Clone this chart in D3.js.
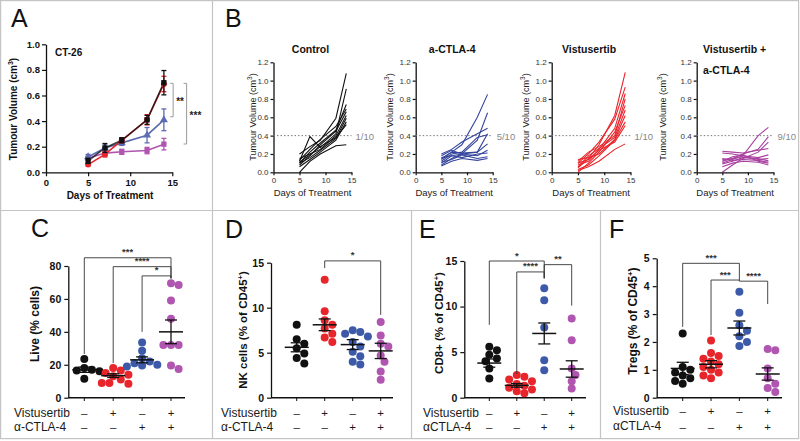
<!DOCTYPE html>
<html><head><meta charset="utf-8">
<script src="https://cdn.jsdelivr.net/npm/d3@7/dist/d3.min.js"></script>
<style>body{margin:0;background:#fff}svg{display:block;font-family:"Liberation Sans",Arial,sans-serif}</style>
</head><body>
<svg id="c" width="800" height="441"></svg>
<script>
// ---------------- DATA ----------------
const days = [5, 7, 9, 12, 14];
const aXTicks = [0, 5, 10, 15];
const aYTicks = [0, 0.2, 0.4, 0.6, 0.8, 1.0];
const bYTicks = [0, 0.2, 0.4, 0.6, 0.8, 1.0, 1.2];

// Panel A group means / SEM
const meanControl = [0.09, 0.19, 0.25, 0.41, 0.70];
const semControl = [0.02, 0.035, 0.02, 0.035, 0.095];
const meanVist = [0.06, 0.14, 0.25, 0.41, 0.69];
const semVist = [0.01, 0.02, 0.02, 0.04, 0.06];
const meanCTLA = [0.12, 0.19, 0.23, 0.29, 0.41];
const semCTLA = [0.02, 0.025, 0.02, 0.06, 0.085];
const meanCombo = [0.11, 0.15, 0.16, 0.17, 0.22];
const semCombo = [0.015, 0.02, 0.02, 0.025, 0.045];

// Panel B individual tumour curves (days 5,7,9,12,14)
const ctrlCurves = [
  [0.20, 0.28, 0.35, 0.59, 1.08], [0.12, 0.39, 0.27, 0.42, 0.91], [0.10, 0.22, 0.32, 0.46, 0.74],
  [0.13, 0.25, 0.36, 0.50, 0.69], [0.08, 0.18, 0.30, 0.45, 0.66], [0.15, 0.20, 0.25, 0.40, 0.62],
  [0.10, 0.16, 0.24, 0.37, 0.59], [0.06, 0.14, 0.22, 0.35, 0.55], [0.00, 0.12, 0.20, 0.29, 0.30],
  [0.11, 0.19, 0.28, 0.38, 0.52]];
const ctlaCurves = [
  [0.15, 0.22, 0.30, 0.60, 0.85], [0.18, 0.24, 0.20, 0.35, 0.65], [0.20, 0.25, 0.33, 0.42, 0.48],
  [0.12, 0.20, 0.22, 0.38, 0.41], [0.10, 0.18, 0.20, 0.22, 0.42], [0.14, 0.22, 0.21, 0.22, 0.31],
  [0.08, 0.15, 0.20, 0.18, 0.24], [0.16, 0.18, 0.16, 0.20, 0.21], [0.11, 0.14, 0.19, 0.15, 0.17],
  [0.07, 0.12, 0.15, 0.13, 0.15]];
const vistCurves = [
  [0.05, 0.15, 0.30, 0.62, 1.09], [0.10, 0.20, 0.33, 0.58, 0.93], [0.08, 0.12, 0.25, 0.48, 0.86],
  [0.12, 0.22, 0.28, 0.40, 0.80], [0.00, 0.10, 0.22, 0.44, 0.73], [0.06, 0.18, 0.26, 0.38, 0.68],
  [0.14, 0.16, 0.20, 0.36, 0.62], [0.03, 0.08, 0.18, 0.35, 0.55], [0.10, 0.14, 0.24, 0.33, 0.51],
  [0.02, 0.06, 0.12, 0.25, 0.31]];
const comboCurves = [
  [0.10, 0.14, 0.18, 0.40, 0.49], [0.12, 0.15, 0.20, 0.25, 0.39], [0.00, 0.08, 0.15, 0.22, 0.33],
  [0.23, 0.22, 0.21, 0.24, 0.26], [0.21, 0.20, 0.18, 0.16, 0.19], [0.14, 0.15, 0.17, 0.14, 0.15],
  [0.09, 0.12, 0.16, 0.15, 0.125], [0.12, 0.17, 0.19, 0.12, 0.10], [0.06, 0.10, 0.12, 0.11, 0.08],
  [0.15, 0.13, 0.14, 0.13, 0.11]];
const bTitles = [["Control"], ["a-CTLA-4"], ["Vistusertib"], ["Vistusertib +", "a-CTLA-4"]];
const bFractions = ["1/10", "5/10", "1/10", "9/10"];

// Bottom row (C–F): groups = [-/-, Vist, CTLA, Vist+CTLA]
const vistSigns = ["-", "+", "-", "+"];
const ctlaSigns = ["-", "-", "+", "+"];
const livePts = [[23.5, 18, 17, 16.5, 16, 11.5], [18, 16.5, 15, 14, 13, 11, 9, 9, 8.5],
  [33.5, 28.5, 24, 22, 21, 20, 19.5, 19], [69.5, 68.5, 59, 48, 32, 32, 32, 19.5, 17.5]];
const liveMean = [17, 13.4, 23, 40]; const liveSem = [1.6, 1.1, 1.8, 7.2];
const liveTicks = [0, 20, 40, 60, 80];
const nkPts = [[8.1, 6.5, 6.0, 5.5, 4.9, 4.4, 3.8], [13.1, 9.6, 8.6, 8.1, 7.7, 7.1, 6.7, 6.2],
  [7.5, 7.3, 7.1, 6.8, 6.2, 5.7, 5.1, 4.6, 4.0, 3.7], [8.4, 6.9, 6.0, 5.7, 4.7, 4.0, 2.9, 2.0]];
const nkMean = [5.6, 8.1, 5.9, 5.2]; const nkSem = [0.5, 0.65, 0.55, 0.85];
const nkTicks = [0, 5, 10, 15];
const cd8Pts = [[5.6, 5.2, 4.7, 4.3, 4.0, 3.2, 2.1], [2.5, 2.3, 2.0, 1.8, 1.5, 1.3, 1.1, 0.9, 0.7, 0.5],
  [12, 10.7, 7.7, 4.1, 3.0], [8.7, 6.3, 3.2, 2.5, 1.8, 1.0]];
const cd8Mean = [3.8, 1.35, 7.05, 3.15]; const cd8Sem = [0.45, 0.2, 1.15, 0.9];
const cd8Ticks = [0, 5, 10, 15];
const tregPts = [[2.3, 1.1, 1.0, 0.9, 0.8, 0.7, 0.6, 0.5], [2.05, 1.6, 1.5, 1.4, 1.3, 1.2, 1.1, 1.0, 0.9, 0.8, 0.7],
  [3.8, 3.05, 2.6, 2.4, 2.2, 2.0, 1.85], [1.75, 1.7, 1.05, 0.7, 0.5, 0.35, 0.2]];
const tregMean = [1.05, 1.2, 2.5, 0.85]; const tregSem = [0.22, 0.13, 0.25, 0.22];
const tregTicks = [0, 1, 2, 3, 4, 5];

// significance brackets: [from group, to group, top value, left drop, right drop, label]
const liveSig = [[0, 3, 85, 26.5, 72.5, "***"], [1, 3, 79.6, 21, 72.5, "****"], [2, 3, 74, 40, 72.5, "*"]];
const nkSig = [[1, 3, 15.2, 14.4, 9.2, "*"]];
const cd8Sig = [[0, 2, 15.0, 8.0, 13.1, "*"], [1, 2, 13.8, 2.6, 13.1, "****"], [2, 3, 14.6, 13.1, 10.1, "**"]];
const tregSig = [[0, 2, 4.82, 2.54, 4.2, "***"], [1, 2, 4.22, 2.25, 4.2, "***"], [2, 3, 4.18, 4.2, 3.36, "****"]];
// Panel A brackets: [upper value, lower value, day position, label]
const aSig = [[0.695, 0.434, 15.1, "**"], [0.695, 0.221, 16.7, "***"]];

// ---------------- DRAWING ----------------
const svg = d3.select("#c");
const BLACK = "#111", RED = "#e8252b", BLUE = "#3c5aa8", PURPLE = "#b055b0";
const NAVY = "#34449c", MAG = "#a8409f";

// frames
const frame = svg.append("g").attr("fill", "none").attr("stroke", "#c4c4c4").attr("stroke-width", 1.2);
frame.append("rect").attr("x", 0.6).attr("y", 0.6).attr("width", 798).attr("height", 438);
frame.append("line").attr("x1", 212.5).attr("x2", 212.5).attr("y1", 0).attr("y2", 439);
frame.append("line").attr("x1", 0).attr("x2", 799).attr("y1", 210.5).attr("y2", 210.5);
frame.append("line").attr("x1", 411.5).attr("x2", 411.5).attr("y1", 210.5).attr("y2", 439);
frame.append("line").attr("x1", 600.5).attr("x2", 600.5).attr("y1", 210.5).attr("y2", 439);

function letter(t, x, y) {
  svg.append("text").attr("x", x).attr("y", y).attr("font-size", 25).attr("fill", "#111").text(t);
}
letter("A", 11, 27); letter("B", 225, 27); letter("C", 31, 237); letter("D", 225, 238); letter("E", 419, 238); letter("F", 609, 238);

function styleAxis(g, fs, bold, col) {
  g.select(".domain").attr("stroke", "#111").attr("stroke-width", 1.3);
  g.selectAll(".tick line").attr("stroke", "#111").attr("stroke-width", 1.2);
  g.selectAll(".tick text").attr("font-size", fs).attr("font-weight", bold ? "bold" : "normal")
    .attr("fill", col || "#111").attr("font-family", '"Liberation Sans",Arial,sans-serif');
}

// ---- Panel A ----
{
  const g = svg.append("g");
  const x = d3.scaleLinear().domain([0, 15]).range([46, 172.3]);
  const y = d3.scaleLinear().domain([0, 1]).range([172.3, 44.3]);
  const gx = g.append("g").attr("transform", "translate(0,172.3)")
    .call(d3.axisBottom(x).tickValues(aXTicks).tickSize(4).tickSizeOuter(0).tickPadding(3));
  styleAxis(gx, 9.5, true);
  const gy = g.append("g").attr("transform", "translate(46,0)")
    .call(d3.axisLeft(y).tickValues(aYTicks).tickFormat(d3.format(".1f")).tickSize(4).tickSizeOuter(0).tickPadding(2));
  styleAxis(gy, 9.5, true);
  g.append("text").attr("x", 110).attr("y", 199).attr("text-anchor", "middle").attr("font-size", 10)
    .attr("font-weight", "bold").attr("fill", "#111").text("Days of Treatment");
  const yt = g.append("text").attr("transform", "translate(17,109) rotate(-90)").attr("text-anchor", "middle")
    .attr("font-size", 10).attr("font-weight", "bold").attr("fill", "#111");
  yt.append("tspan").text("Tumour Volume (cm");
  yt.append("tspan").attr("font-size", 7).attr("dy", -4).text("3");
  yt.append("tspan").attr("dy", 4).text(")");
  g.append("text").attr("x", 55).attr("y", 56).attr("font-size", 10).attr("font-weight", "bold").attr("fill", "#111").text("CT-26");

  const series = [
    { m: meanCombo, s: semCombo, c: PURPLE, sym: d3.symbolSquare, op: 1 },
    { m: meanCTLA, s: semCTLA, c: "#5b6cb0", sym: d3.symbolTriangle, op: 1 },
    { m: meanVist, s: semVist, c: RED, sym: d3.symbolCircle, op: 1 },
    { m: meanControl, s: semControl, c: BLACK, sym: d3.symbolSquare, op: 0.8 }
  ];
  const line = d3.line().x((d, i) => x(days[i])).y(d => y(d));
  series.forEach(se => {
    g.append("path").attr("d", line(se.m)).attr("fill", "none").attr("stroke", se.c).attr("stroke-width", 1.6)
      .attr("opacity", se.op);
  });
  series.forEach(se => {
    se.m.forEach((v, i) => {
      const cx = x(days[i]);
      const eb = se.c;
      g.append("line").attr("x1", cx).attr("x2", cx).attr("y1", y(v - se.s[i])).attr("y2", y(v + se.s[i])).attr("stroke", eb).attr("stroke-width", 1.3);
      [v - se.s[i], v + se.s[i]].forEach(e => g.append("line").attr("x1", cx - 2.5).attr("x2", cx + 2.5)
        .attr("y1", y(e)).attr("y2", y(e)).attr("stroke", eb).attr("stroke-width", 1.3));
      g.append("path").attr("transform", `translate(${cx},${y(v)})`).attr("d", d3.symbol().type(se.sym).size(28)())
        .attr("fill", se.c);
    });
  });
  aSig.forEach(b => {
    const bx = x(b[2]);
    g.append("path").attr("d", `M${bx - 3},${y(b[0])}H${bx}V${y(b[1])}H${bx - 3}`).attr("fill", "none")
      .attr("stroke", "#999").attr("stroke-width", 1);
    g.append("text").attr("x", bx + 3).attr("y", (y(b[0]) + y(b[1])) / 2 + 5).attr("font-size", 10)
      .attr("font-weight", "bold").attr("fill", "#222").text(b[3]);
  });
}

// ---- Panel B ----
{
  const plots = [
    { x0: 273.5, x1: 351.5, curves: ctrlCurves, c: "#111", yt: 256 },
    { x0: 415.7, x1: 492.7, curves: ctlaCurves, c: NAVY, yt: 393 },
    { x0: 551.7, x1: 630.5, curves: vistCurves, c: RED, yt: 529 },
    { x0: 696.7, x1: 773.5, curves: comboCurves, c: MAG, yt: 666 }
  ];
  plots.forEach((p, k) => {
    const g = svg.append("g");
    const x = d3.scaleLinear().domain([0, 15]).range([p.x0, p.x1]);
    const y = d3.scaleLinear().domain([0, 1.2]).range([172.3, 62.3]);
    const gx = g.append("g").attr("transform", "translate(0,172.3)")
      .call(d3.axisBottom(x).tickValues(aXTicks).tickSize(3).tickSizeOuter(0).tickPadding(2));
    styleAxis(gx, 8, false, "#333");
    const gy = g.append("g").attr("transform", `translate(${p.x0},0)`)
      .call(d3.axisLeft(y).tickValues(bYTicks).tickFormat(d3.format(".1f")).tickSize(3).tickSizeOuter(0).tickPadding(2));
    styleAxis(gy, 8, false, "#333");
    // threshold
    g.append("line").attr("x1", p.x0).attr("x2", p.x1 + (k === 1 ? -2 : 0)).attr("y1", y(0.4)).attr("y2", y(0.4))
      .attr("stroke", "#777").attr("stroke-width", 1).attr("stroke-dasharray", "1.5,2");
    g.append("text").attr("x", p.x1 + 4).attr("y", y(0.4) + 4).attr("font-size", 9.5).attr("fill", "#888").text(bFractions[k]);
    const line = d3.line().x((d, i) => x(days[i])).y(d => y(d));
    p.curves.forEach(cv => g.append("path").attr("d", line(cv)).attr("fill", "none").attr("stroke", p.c).attr("stroke-width", 1.1));
    // titles
    const t = bTitles[k];
    if (t.length === 1) {
      g.append("text").attr("x", (p.x0 + p.x1) / 2 - 2).attr("y", 53).attr("text-anchor", "middle")
        .attr("font-size", 10.5).attr("font-weight", "bold").attr("fill", "#111").text(t[0]);
    } else {
      t.forEach((s, j) => g.append("text").attr("x", 703).attr("y", 53 + j * 21).attr("font-size", 10.5)
        .attr("font-weight", "bold").attr("fill", "#111").text(s));
    }
    g.append("text").attr("x", (p.x0 + p.x1) / 2).attr("y", 196).attr("text-anchor", "middle").attr("font-size", 9.5)
      .attr("fill", "#222").text("Days of Treatment");
    const yt = g.append("text").attr("transform", `translate(${p.yt},117) rotate(-90)`).attr("text-anchor", "middle")
      .attr("font-size", 9).attr("fill", "#222");
    yt.append("tspan").text("Tumour Volume (cm");
    yt.append("tspan").attr("font-size", 6.5).attr("dy", -4).text("3");
    yt.append("tspan").attr("dy", 4).text(")");
  });
}

// ---- Bottom scatter panels ----
function swarm(vals, y, cx, r) {
  const arr = vals.map(v => ({ v, y: y(v) })).sort((a, b) => a.y - b.y);
  const placed = [];
  arr.forEach(p => {
    for (let k = 0; k < 30; k++) {
      const off = k === 0 ? 0 : (k % 2 ? 1 : -1) * Math.ceil(k / 2) * r * 0.95;
      const xx = cx + off;
      if (placed.every(q => Math.hypot(q.x - xx, q.y - p.y) >= r * 1.75)) { p.x = xx; break; }
    }
    if (p.x === undefined) p.x = cx;
    placed.push(p);
  });
  return placed;
}

function scatterPanel(o) {
  const g = svg.append("g");
  const colors = [BLACK, RED, BLUE, PURPLE];
  const y = d3.scaleLinear().domain([0, o.max]).range([397.7, o.top]);
  const x = d3.scalePoint().domain([0, 1, 2, 3]).range([o.c0, o.c3]);
  g.append("line").attr("x1", o.ax).attr("x2", o.xEnd).attr("y1", 397.7).attr("y2", 397.7).attr("stroke", "#111").attr("stroke-width", 1.4);
  [0, 1, 2, 3].forEach(i => g.append("line").attr("x1", x(i)).attr("x2", x(i)).attr("y1", 397.7).attr("y2", 401).attr("stroke", "#111"));
  const gy = g.append("g").attr("transform", `translate(${o.ax},0)`)
    .call(d3.axisLeft(y).tickValues(o.ticks).tickFormat(d3.format("d")).tickSize(4).tickSizeOuter(0).tickPadding(3));
  styleAxis(gy, 10.5, true);
  // points
  o.pts.forEach((vals, i) => {
    swarm(vals, y, x(i), 4).forEach(p => g.append("circle").attr("cx", p.x).attr("cy", p.y).attr("r", 4).attr("fill", colors[i]));
  });
  // mean & sem
  o.mean.forEach((m, i) => {
    const cx = x(i), s = o.sem[i];
    g.append("line").attr("x1", cx - 12).attr("x2", cx + 12).attr("y1", y(m)).attr("y2", y(m)).attr("stroke", "#111").attr("stroke-width", 1.5);
    g.append("line").attr("x1", cx).attr("x2", cx).attr("y1", y(m - s)).attr("y2", y(m + s)).attr("stroke", "#111").attr("stroke-width", 1.3);
    [m - s, m + s].forEach(e => g.append("line").attr("x1", cx - 6).attr("x2", cx + 6).attr("y1", y(e)).attr("y2", y(e))
      .attr("stroke", "#111").attr("stroke-width", 1.3));
  });
  // brackets
  o.sig.forEach(b => {
    const xa = x(b[0]), xb = x(b[1]), yt = y(b[2]);
    g.append("path").attr("d", `M${xa},${y(b[3])}V${yt}H${xb}V${y(b[4])}`).attr("fill", "none").attr("stroke", "#333").attr("stroke-width", 0.9);
    g.append("text").attr("x", (xa + xb) / 2).attr("y", yt - 2.5).attr("text-anchor", "middle").attr("font-size", 9.5)
      .attr("font-weight", "bold").attr("fill", "#333").text(b[5]);
  });
  // y title
  const t = g.append("text").attr("transform", `translate(${o.tx},${o.ty}) rotate(-90)`).attr("text-anchor", "middle")
    .attr("font-size", o.tfs).attr("font-weight", "bold").attr("fill", "#111");
  o.title.forEach(part => {
    const sp = t.append("tspan").text(part[0]);
    if (part[1]) sp.attr("font-size", o.tfs * 0.65).attr("dy", -4.5);
    if (part[2]) sp.attr("dy", 4.5);
  });
  // row labels
  g.append("text").attr("x", o.lx).attr("y", o.r1).attr("font-size", 12).attr("fill", "#1a1a1a").text("Vistusertib");
  g.append("text").attr("x", o.lx).attr("y", o.r2).attr("font-size", 12).attr("fill", "#1a1a1a").text(o.ctlaLabel);
  vistSigns.forEach((s, i) => g.append("text").attr("x", x(i)).attr("y", o.r1).attr("text-anchor", "middle").attr("font-size", 11.5).attr("fill", "#1a1a1a").text(s === "-" ? "–" : "+"));
  ctlaSigns.forEach((s, i) => g.append("text").attr("x", x(i)).attr("y", o.r2s).attr("text-anchor", "middle").attr("font-size", 11.5).attr("fill", "#1a1a1a").text(s === "-" ? "–" : "+"));
}

scatterPanel({ ax: 68.3, xEnd: 185, c0: 84.3, c3: 171, max: 80, top: 266, ticks: liveTicks, pts: livePts, mean: liveMean, sem: liveSem,
  sig: liveSig, tx: 39, ty: 324, tfs: 12, title: [["Live (% cells)"]], lx: 14, r1: 416.5, r2: 430.5, r2s: 430.5, ctlaLabel: "α-CTLA-4" });
scatterPanel({ ax: 271, xEnd: 393, c0: 296.7, c3: 380.7, max: 15, top: 262.7, ticks: nkTicks, pts: nkPts, mean: nkMean, sem: nkSem,
  sig: nkSig, tx: 247, ty: 330, tfs: 11.5, title: [["NK cells (% of CD45"], ["+", true], [")", false, true]], lx: 221, r1: 416.5, r2: 430.5, r2s: 430.5, ctlaLabel: "α-CTLA-4" });
scatterPanel({ ax: 464.3, xEnd: 586, c0: 489.3, c3: 571.7, max: 15, top: 261, ticks: cd8Ticks, pts: cd8Pts, mean: cd8Mean, sem: cd8Sem,
  sig: cd8Sig, tx: 443, ty: 323, tfs: 11.5, title: [["CD8+ (% of CD45"], ["+", true], [")", false, true]], lx: 423, r1: 416.5, r2: 430.5, r2s: 430.5, ctlaLabel: "αCTLA-4" });
scatterPanel({ ax: 656.7, xEnd: 782, c0: 682.7, c3: 767.7, max: 5, top: 258.3, ticks: tregTicks, pts: tregPts, mean: tregMean, sem: tregSem,
  sig: tregSig, tx: 637, ty: 321, tfs: 12, title: [["Tregs (% of CD45"], ["+", true], [")", false, true]], lx: 613, r1: 415, r2: 429.5, r2s: 430.5, ctlaLabel: "αCTLA-4" });
</script>
</body></html>
